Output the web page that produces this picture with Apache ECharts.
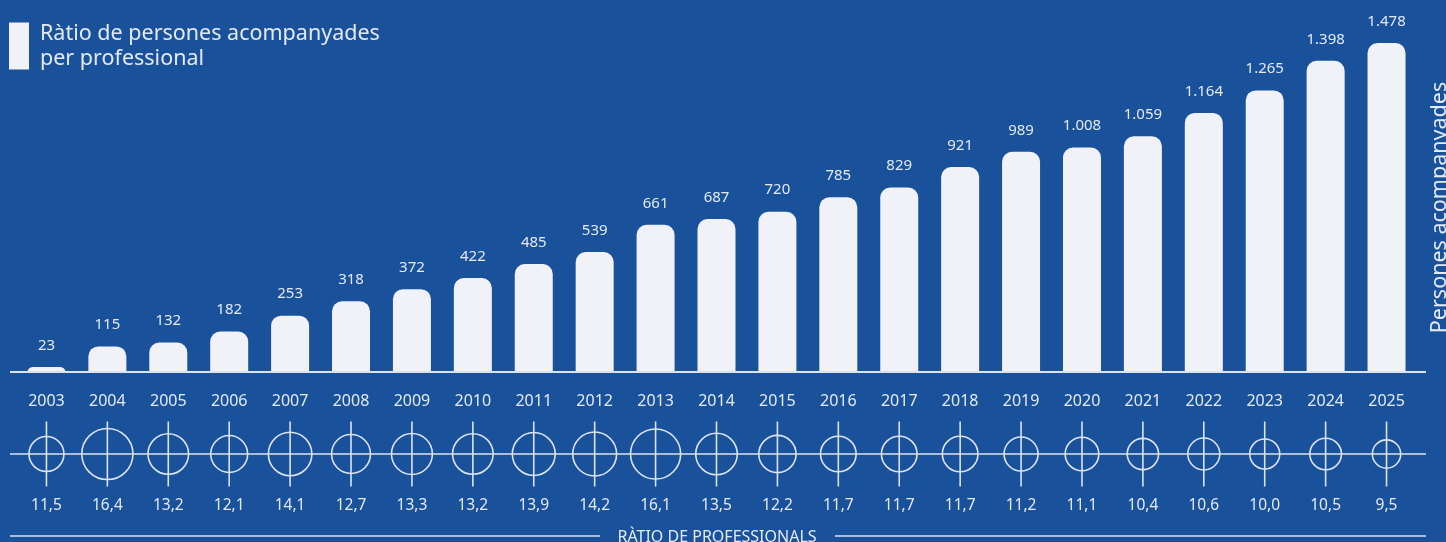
<!DOCTYPE html>
<html>
<head>
<meta charset="utf-8">
<script src="https://cdn.jsdelivr.net/npm/echarts@6/dist/echarts.min.js"></script>
<style>
html,body{margin:0;padding:0;background:#1a519b;overflow:hidden;}
#c{width:1446px;height:542px;}
</style>
</head>
<body>
<div id="c"></div>
<script>
const years = ['2003','2004','2005','2006','2007','2008','2009','2010','2011','2012','2013','2014','2015','2016','2017','2018','2019','2020','2021','2022','2023','2024','2025'];
const persones = [23,115,132,182,253,318,372,422,485,539,661,687,720,785,829,921,989,1008,1059,1164,1265,1398,1478];
const ratio = [11.5,16.4,13.2,12.1,14.1,12.7,13.3,13.2,13.9,14.2,16.1,13.5,12.2,11.7,11.7,11.7,11.2,11.1,10.4,10.6,10.0,10.5,9.5];

const seriesName = 'Ràtio de persones acompanyades per professional';
const axisName = 'Persones acompanyades';
const bottomTitle = 'RÀTIO DE PROFESSIONALS';

const BG = '#1a519b';
const FG = '#f0f2f8';
const TXT = '#e4eaf4';
const LINE = '#dbe3f0';

const fmtThousands = v => String(v).replace(/\B(?=(\d{3})+(?!\d))/g, '.');
const fmtDec = v => v.toFixed(1).replace('.', ',');

const ratioData = ratio.map((r, i) => [i, 0, r]);

const chart = echarts.init(document.getElementById('c'));
chart.setOption({
  backgroundColor: BG,
  animation: false,
  legend: {
    left: 9, top: 21, padding: 0,
    itemWidth: 20, itemHeight: 47,
    data: [{name: seriesName, icon: 'rect', itemStyle: {color: FG}}],
    formatter: () => 'Ràtio de persones acompanyades\nper professional',
    textStyle: {color: TXT, fontSize: 21.5, lineHeight: 25, fontFamily: 'Noto Sans', padding: [0,0,0,6]}
  },
  grid: [
    {left: 16, right: 29, top: 43, bottom: 170, outerBoundsMode: 'none', containLabel: false},
    {left: 16, right: 29, top: 420, height: 68, outerBoundsMode: 'none', containLabel: false}
  ],
  xAxis: [
    {type: 'category', gridIndex: 0, data: years,
     axisLine: {show: false}, axisTick: {show: false},
     axisLabel: {color: TXT, fontSize: 16, fontFamily: 'Noto Sans', margin: 21}},
    {type: 'category', gridIndex: 1, data: years,
     axisLine: {show: false}, axisTick: {show: false}, axisLabel: {show: false}}
  ],
  yAxis: [
    {type: 'value', gridIndex: 0, min: 0, max: 'dataMax', position: 'right',
     axisLine: {show: false}, axisTick: {show: false}, axisLabel: {show: false}, splitLine: {show: false},
     name: axisName, nameLocation: 'middle', nameRotate: 90, nameGap: 12,
     nameTextStyle: {color: TXT, fontSize: 21.5, fontFamily: 'Noto Sans'}},
    {type: 'value', gridIndex: 1, min: -1, max: 1, show: false}
  ],
  series: [
    {name: seriesName, type: 'bar', xAxisIndex: 0, yAxisIndex: 0, data: persones,
     barWidth: 38,
     itemStyle: {color: FG, borderRadius: [10,10,0,0]},
     label: {show: true, position: 'top', distance: 14, color: TXT, fontSize: 15, fontFamily: 'Noto Sans',
             formatter: p => fmtThousands(p.value)}},
    {type: 'scatter', xAxisIndex: 1, yAxisIndex: 1, data: ratioData,
     symbol: 'rect', symbolSize: [1.6, 65],
     itemStyle: {color: LINE, opacity: 1},
     label: {show: true, position: 'bottom', distance: 11, color: TXT, fontSize: 15.5, fontFamily: 'Noto Sans',
             formatter: p => fmtDec(p.value[2])}},
    {type: 'scatter', xAxisIndex: 1, yAxisIndex: 1, data: ratioData,
     symbol: 'circle', symbolSize: v => v[2] * 3.3 - 3,
     itemStyle: {color: 'rgba(0,0,0,0)', borderColor: LINE, borderWidth: 1.6, opacity: 1}}
  ],
  graphic: [
    {type: 'line', shape: {x1: 10, y1: 372, x2: 1426, y2: 372}, style: {stroke: LINE, lineWidth: 2}, z: 10},
    {type: 'line', shape: {x1: 10, y1: 454, x2: 1426, y2: 454}, style: {stroke: LINE, lineWidth: 1.5}, z: 0},
    {type: 'line', shape: {x1: 10, y1: 536, x2: 600, y2: 536}, style: {stroke: LINE, lineWidth: 1.5}},
    {type: 'line', shape: {x1: 835, y1: 536, x2: 1426, y2: 536}, style: {stroke: LINE, lineWidth: 1.5}},
    {type: 'text', x: 717, y: 537, style: {text: bottomTitle, fill: TXT, fontSize: 16, fontFamily: 'Noto Sans',
      textAlign: 'center', textVerticalAlign: 'middle'}}
  ]
});
</script>
</body>
</html>
